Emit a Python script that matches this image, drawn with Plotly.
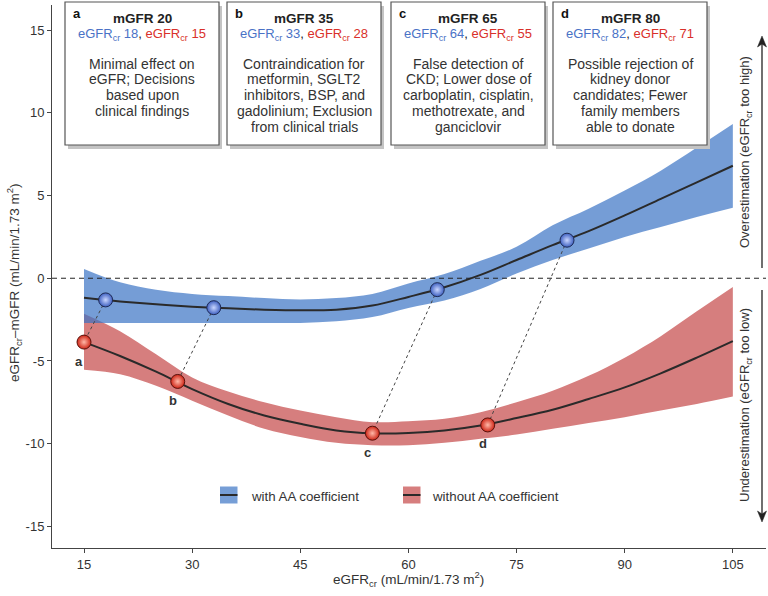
import plotly.graph_objects as go

# ---------------- data ----------------
x_grid = [15, 20, 25, 30, 35, 40, 45, 50, 55, 60, 65, 70, 75, 80, 85, 90, 95, 100, 105]

with_mean = [-1.18, -1.40, -1.58, -1.72, -1.82, -1.90, -1.94, -1.90, -1.65, -1.13, -0.55, 0.20, 1.10, 2.00, 2.85, 3.80, 4.80, 5.80, 6.80]
with_hi   = [0.56, -0.25, -0.70, -0.95, -1.08, -1.20, -1.29, -1.20, -0.95, -0.32, 0.25, 1.05, 1.90, 3.20, 4.20, 5.30, 6.50, 7.90, 9.33]
with_lo   = [-2.70, -2.70, -2.70, -2.70, -2.70, -2.70, -2.70, -2.60, -2.35, -1.80, -1.35, -0.65, 0.28, 1.10, 1.80, 2.50, 3.10, 3.70, 4.26]

without_mean = [-3.86, -4.70, -5.65, -6.70, -7.60, -8.30, -8.80, -9.20, -9.37, -9.35, -9.20, -8.90, -8.45, -7.95, -7.30, -6.60, -5.75, -4.80, -3.80]
without_hi   = [-2.14, -3.20, -4.60, -6.00, -6.85, -7.50, -8.00, -8.40, -8.70, -8.65, -8.50, -8.10, -7.50, -6.80, -5.90, -4.80, -3.50, -2.00, -0.53]
without_lo   = [-5.53, -5.80, -6.50, -7.40, -8.30, -9.10, -9.60, -9.95, -10.10, -10.10, -9.95, -9.70, -9.45, -9.10, -8.75, -8.40, -8.00, -7.60, -7.15]

letters = ["a", "b", "c", "d"]
mgfr = [20, 35, 65, 80]
with_pts_x = [18, 33, 64, 82]
with_pts_y = [-1.31, -1.78, -0.69, 2.30]
without_pts_x = [15, 28, 55, 71]
without_pts_y = [-3.86, -6.24, -9.37, -8.87]

descriptions = [
    ["Minimal effect on", "eGFR; Decisions", "based upon", "clinical findings"],
    ["Contraindication for", "metformin, SGLT2", "inhibitors, BSP, and", "gadolinium; Exclusion", "from clinical trials"],
    ["False detection of", "CKD; Lower dose of", "carboplatin, cisplatin,", "methotrexate, and", "ganciclovir"],
    ["Possible rejection of", "kidney donor", "candidates; Fewer", "family members", "able to donate"],
]

x_ticks = [15, 30, 45, 60, 75, 90, 105]
y_ticks = [-15, -10, -5, 0, 5, 10, 15]
y_ticktext = ["-15", "-10", "-5", "0", "5", "10", "15"]

legend_names = ["with AA coefficient", "without AA coefficient"]

# ---------------- styling / layout helpers ----------------
W, H = 768, 596
L, R, T, B = 52, 2, 5, 48
PW, PH = W - L - R, H - T - B
FONT = "Liberation Sans, Arial, Helvetica, sans-serif"
BLUE_BAND = "rgba(59,116,196,0.70)"
RED_BAND = "#d67e7e"
BLUE_TXT = "#4a72c6"
RED_TXT = "#d9302a"
DARK = "#2a2a2a"


def px(xp):
    return (xp - L) / PW


def py(yp):
    return (H - B - yp) / PH


fig = go.Figure()

# bands: red first, blue (semi-transparent) on top
fig.add_trace(go.Scatter(x=x_grid, y=without_lo, mode="lines", line=dict(width=0, shape="spline"),
                         showlegend=False, hoverinfo="skip"))
fig.add_trace(go.Scatter(x=x_grid, y=without_hi, mode="lines", line=dict(width=0, shape="spline"),
                         fill="tonexty", fillcolor=RED_BAND, showlegend=False, hoverinfo="skip"))
fig.add_trace(go.Scatter(x=x_grid, y=with_lo, mode="lines", line=dict(width=0, shape="spline"),
                         showlegend=False, hoverinfo="skip"))
fig.add_trace(go.Scatter(x=x_grid, y=with_hi, mode="lines", line=dict(width=0, shape="spline"),
                         fill="tonexty", fillcolor=BLUE_BAND, showlegend=False, hoverinfo="skip"))

# mean lines
fig.add_trace(go.Scatter(x=x_grid, y=with_mean, mode="lines", line=dict(color=DARK, width=2, shape="spline"),
                         showlegend=False))
fig.add_trace(go.Scatter(x=x_grid, y=without_mean, mode="lines", line=dict(color=DARK, width=2, shape="spline"),
                         showlegend=False))

# dashed connectors
for xb, yb, xr, yr in zip(with_pts_x, with_pts_y, without_pts_x, without_pts_y):
    fig.add_trace(go.Scatter(x=[xb, xr], y=[yb, yr], mode="lines",
                             line=dict(color="#444444", width=1, dash="3px,3px"),
                             showlegend=False, hoverinfo="skip"))

# markers
fig.add_trace(go.Scatter(x=with_pts_x, y=with_pts_y, mode="markers",
                         marker=dict(size=14, color="#3d5fc0",
                                     gradient=dict(type="radial", color="#c9d6ff"),
                                     line=dict(color="#1e2a55", width=1)),
                         showlegend=False))
fig.add_trace(go.Scatter(x=without_pts_x, y=without_pts_y, mode="markers",
                         marker=dict(size=14, color="#cf2516",
                                     gradient=dict(type="radial", color="#ffb8a8"),
                                     line=dict(color="#5a120c", width=1)),
                         showlegend=False))

shapes = []
annotations = []


def note(x, y, text, size=13, color="#333", xanchor="center", yanchor="middle", **kw):
    d = dict(x=x, y=y, xref="paper", yref="paper", text=text, showarrow=False,
             xanchor=xanchor, yanchor=yanchor, font=dict(family=FONT, size=size, color=color))
    d.update(kw)
    annotations.append(d)


# zero dashed line
shapes.append(dict(type="line", xref="paper", yref="y", x0=0, x1=1, y0=0, y1=0,
                   line=dict(color="#222", width=1, dash="5px,4px")))

# point letters
for lt, xr, yr in zip(letters, without_pts_x, without_pts_y):
    annotations.append(dict(x=xr, y=yr, xref="x", yref="y", text="<b>%s</b>" % lt,
                            showarrow=False, yshift=-19, xshift=-5,
                            xanchor="center", yanchor="middle",
                            font=dict(family=FONT, size=13, color="#333")))

# boxes
box_left = [65, 227, 391, 553]
box_w = 154
box_top, box_bot = 2, 145
for i, lt in enumerate(letters):
    x0 = box_left[i]
    x1 = x0 + box_w
    cx = (x0 + x1) / 2
    shapes.append(dict(type="rect", xref="paper", yref="paper", layer="above",
                       x0=px(x0 + 3), x1=px(x1 + 3), y0=py(box_bot + 4), y1=py(box_top + 4),
                       line=dict(width=0), fillcolor="#c4c4c4"))
    shapes.append(dict(type="rect", xref="paper", yref="paper", layer="above",
                       x0=px(x0), x1=px(x1), y0=py(box_bot), y1=py(box_top),
                       line=dict(width=1.2, color="#555"), fillcolor="white"))
    note(px(x0 + 6), py(14), "<b>%s</b>" % lt, color="#111", xanchor="left")
    note(px(cx), py(18.5), "<b>mGFR %d</b>" % mgfr[i], size=13.5, color="#222")
    eg = ("<span style='color:%s'>eGFR<sub>cr</sub> %d</span>, "
          "<span style='color:%s'>eGFR<sub>cr</sub> %d</span>") % (BLUE_TXT, with_pts_x[i], RED_TXT, without_pts_x[i])
    note(px(cx), py(35), eg, color="#222")
    for j, line in enumerate(descriptions[i]):
        note(px(cx), py(63.5 + 15.8 * j), line, size=14)

# legend (manual)
leg_items = [(220, 249, "#769ed6"), (403, 430, RED_BAND)]
for (sx, tx, col), name in zip(leg_items, legend_names):
    shapes.append(dict(type="rect", xref="paper", yref="paper", x0=px(sx), x1=px(sx + 17.5),
                       y0=py(503.5), y1=py(486.5), line=dict(width=0), fillcolor=col))
    shapes.append(dict(type="line", xref="paper", yref="paper", x0=px(sx), x1=px(sx + 17.5),
                       y0=py(495), y1=py(495), line=dict(width=2, color=DARK)))
    note(px(tx), py(496), name, size=13.3, xanchor="left")

# right-hand annotations with arrows
note(px(745), py(152), "Overestimation (eGFR<sub>cr</sub> too high)", textangle=-90)
note(px(745), py(405), "Underestimation (eGFR<sub>cr</sub> too low)", textangle=-90)
AX = 762
for (tail, tip) in [(268, 36), (290, 522)]:
    d = 1 if tip > tail else -1
    shapes.append(dict(type="line", xref="paper", yref="paper", x0=px(AX), x1=px(AX),
                       y0=py(tail), y1=py(tip - d * 8), line=dict(color="#222", width=1.3)))
    path = "M {} {} L {} {} L {} {} L {} {} Z".format(
        px(AX), py(tip), px(AX - 4.5), py(tip - d * 11), px(AX), py(tip - d * 8), px(AX + 4.5), py(tip - d * 11))
    shapes.append(dict(type="path", xref="paper", yref="paper", path=path,
                       fillcolor="#222", line=dict(color="#222", width=0.5)))

# axis titles
note(px(408), py(579), "eGFR<sub>cr</sub> (mL/min/1.73 m<sup>2</sup>)", size=13.5)
note(px(14), py(283), "eGFR<sub>cr</sub>–mGFR (mL/min/1.73 m<sup>2</sup>)", size=13.5, textangle=-90)

fig.update_layout(
    width=W, height=H,
    margin=dict(l=L, r=R, t=T, b=B, autoexpand=False),
    plot_bgcolor="white", paper_bgcolor="white",
    showlegend=False,
    shapes=shapes, annotations=annotations,
    font=dict(family=FONT, size=12, color="#333"),
    xaxis=dict(range=[10.56, 109.6], tickvals=x_ticks, ticks="outside", ticklen=4,
               tickcolor="#444", showline=True, linecolor="#444", linewidth=1,
               showgrid=False, zeroline=False, tickfont=dict(size=13, color="#333")),
    yaxis=dict(range=[-16.31, 16.52], tickvals=y_ticks, ticktext=y_ticktext, ticks="outside",
               ticklen=4, tickcolor="#444", showline=True, linecolor="#444", linewidth=1,
               showgrid=False, zeroline=False, tickfont=dict(size=13, color="#333")),
)

fig.write_html("out.html", config={"displayModeBar": False},
               post_script="document.body.style.margin='0';document.body.style.padding='0';")
